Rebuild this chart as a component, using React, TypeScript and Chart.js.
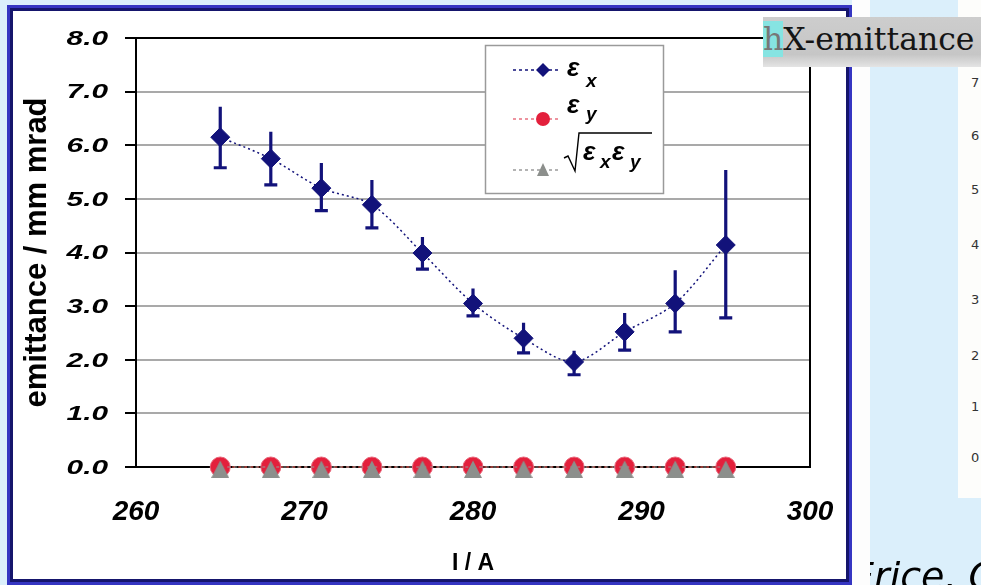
import { useEffect, useRef } from "react";
import { Chart, registerables } from "chart.js";

Chart.register(...registerables);

// Solenoid current scan: horizontal emittance with error bars, vertical and geometric emittance
const currents = [265, 268, 271, 274, 277, 280, 283, 286, 289, 292, 295];
const emitX = [6.15, 5.75, 5.2, 4.89, 3.99, 3.05, 2.4, 1.96, 2.52, 3.05, 4.14];
const emitXHigh = [6.72, 6.25, 5.67, 5.35, 4.29, 3.33, 2.69, 2.17, 2.87, 3.67, 5.54];
const emitXLow = [5.58, 5.26, 4.78, 4.46, 3.69, 2.82, 2.13, 1.72, 2.18, 2.52, 2.78];
const emitY = [0, 0, 0, 0, 0, 0, 0, 0, 0, 0, 0];
const emitGeo = [0, 0, 0, 0, 0, 0, 0, 0, 0, 0, 0];

const yTickValues = [0, 1, 2, 3, 4, 5, 6, 7, 8];
const yTickLabels = ["0.0", "1.0", "2.0", "3.0", "4.0", "5.0", "6.0", "7.0", "8.0"];
const sideTickLabels = ["7", "6", "5", "4", "3", "2", "1", "0"];
const sideTickTops = [83, 136, 190, 245, 300, 356, 407, 458];

const NAVY = "#12127a";
const RED = "#e3203c";
const GREY = "#8c8f8c";
const FONT = '"Liberation Sans", Arial, sans-serif';

function makeTriangle(w: number, h: number, color: string) {
  const c = document.createElement("canvas");
  c.width = w;
  c.height = h;
  const g = c.getContext("2d")!;
  g.fillStyle = color;
  g.beginPath();
  g.moveTo(w / 2, h * 0.2);
  g.lineTo(w, h);
  g.lineTo(0, h);
  g.closePath();
  g.fill();
  return c;
}

const decorPlugin = {
  id: "decor",
  beforeDatasetsDraw(chart: any) {
    const { ctx, chartArea, scales } = chart;
    const xs = scales.x;
    const ys = scales.y;
    ctx.save();
    // plot frame: right edge
    ctx.strokeStyle = "#000";
    ctx.lineWidth = 2;
    ctx.beginPath();
    ctx.moveTo(chartArea.right, chartArea.top);
    ctx.lineTo(chartArea.right, chartArea.bottom);
    ctx.stroke();
    // error bars for the horizontal emittance
    ctx.strokeStyle = NAVY;
    ctx.lineWidth = 3.2;
    currents.forEach((c, i) => {
      const x = xs.getPixelForValue(c);
      const yHi = ys.getPixelForValue(emitXHigh[i]);
      const yLo = ys.getPixelForValue(emitXLow[i]);
      ctx.beginPath();
      ctx.moveTo(x, yHi);
      ctx.lineTo(x, yLo);
      ctx.moveTo(x - 6.5, yLo);
      ctx.lineTo(x + 6.5, yLo);
      ctx.stroke();
    });
    ctx.restore();
  },
  afterDraw(chart: any) {
    const { ctx, scales } = chart;
    const ys = scales.y;
    ctx.save();
    // y tick labels, wide bold italic
    ctx.fillStyle = "#000";
    ctx.font = `italic bold 21px ${FONT}`;
    ctx.textAlign = "right";
    ctx.textBaseline = "middle";
    yTickValues.forEach((v, i) => {
      ctx.save();
      ctx.translate(108, ys.getPixelForValue(v) + 1);
      ctx.scale(1.42, 1);
      ctx.fillText(yTickLabels[i], 0, 0);
      ctx.restore();
    });

    // legend
    const bx = 485.5, by = 45.5, bw = 178, bh = 148;
    ctx.fillStyle = "#fff";
    ctx.fillRect(bx, by, bw, bh);
    ctx.strokeStyle = "#9a9a9a";
    ctx.lineWidth = 1.5;
    ctx.strokeRect(bx, by, bw, bh);

    const mx = 543;
    const rows = [70, 119, 170];
    const colors = [NAVY, "#e87080", "#9a9a9a"];
    rows.forEach((ry, i) => {
      ctx.save();
      ctx.strokeStyle = colors[i];
      ctx.lineWidth = 1.5;
      ctx.setLineDash([3, 3]);
      ctx.beginPath();
      ctx.moveTo(513, ry);
      ctx.lineTo(561, ry);
      ctx.stroke();
      ctx.restore();
    });
    // diamond
    ctx.fillStyle = NAVY;
    ctx.beginPath();
    ctx.moveTo(mx - 7, 70);
    ctx.lineTo(mx, 63);
    ctx.lineTo(mx + 7, 70);
    ctx.lineTo(mx, 77);
    ctx.closePath();
    ctx.fill();
    // circle
    ctx.fillStyle = RED;
    ctx.beginPath();
    ctx.arc(mx, 119, 7, 0, Math.PI * 2);
    ctx.fill();
    // triangle
    ctx.fillStyle = GREY;
    ctx.beginPath();
    ctx.moveTo(mx, 163);
    ctx.lineTo(mx + 6, 176);
    ctx.lineTo(mx - 6, 176);
    ctx.closePath();
    ctx.fill();

    ctx.fillStyle = "#000";
    ctx.textAlign = "left";
    ctx.textBaseline = "alphabetic";
    const big = `italic bold 26px ${FONT}`;
    const sub = `italic bold 19px ${FONT}`;
    ctx.font = big;
    ctx.fillText("ε", 567, 76);
    ctx.font = sub;
    ctx.fillText("x", 586, 87);
    ctx.font = big;
    ctx.fillText("ε", 567, 113);
    ctx.font = sub;
    ctx.fillText("y", 586, 120);

    // square root of the product
    ctx.strokeStyle = "#000";
    ctx.lineWidth = 1.4;
    ctx.beginPath();
    ctx.moveTo(564, 158);
    ctx.lineTo(568, 156);
    ctx.lineTo(575, 171);
    ctx.lineTo(579, 133);
    ctx.lineTo(652, 133);
    ctx.stroke();
    ctx.font = big;
    ctx.fillText("ε", 583, 160);
    ctx.font = sub;
    ctx.fillText("x", 600, 168);
    ctx.font = big;
    ctx.fillText("ε", 612, 160);
    ctx.font = sub;
    ctx.fillText("y", 630, 168);
    ctx.restore();
  },
};

export default function App() {
  const canvasRef = useRef<HTMLCanvasElement | null>(null);

  useEffect(() => {
    const canvas = canvasRef.current;
    if (!canvas) return;
    const tri = makeTriangle(18, 22, GREY);
    const chart = new Chart(canvas, {
      type: "line",
      data: {
        datasets: [
          {
            label: "εx",
            data: currents.map((c, i) => ({ x: c, y: emitX[i] })),
            borderColor: NAVY,
            backgroundColor: NAVY,
            borderWidth: 1.5,
            borderDash: [2, 3],
            tension: 0.3,
            pointStyle: "rectRot",
            pointRadius: 9.5,
            pointBorderWidth: 1,
            pointBorderColor: NAVY,
            pointBackgroundColor: NAVY,
            clip: false,
            order: 0,
          },
          {
            label: "εy",
            data: currents.map((c, i) => ({ x: c, y: emitY[i] })),
            borderColor: "#c8504a",
            backgroundColor: RED,
            borderWidth: 1.5,
            borderDash: [3, 3],
            pointStyle: "circle",
            pointRadius: 10,
            pointBorderWidth: 1,
            pointBorderColor: "#e8667a",
            pointBackgroundColor: RED,
            clip: false,
            order: 2,
          },
          {
            label: "sqrt(εx εy)",
            data: currents.map((c, i) => ({ x: c, y: emitGeo[i] })),
            borderColor: "#9a9a9a",
            backgroundColor: GREY,
            borderWidth: 1,
            borderDash: [3, 4],
            pointStyle: tri,
            pointRadius: 10,
            clip: false,
            order: 1,
          },
        ] as any,
      },
      options: {
        animation: false,
        responsive: false,
        events: [],
        layout: { padding: { top: 38, right: 171, left: 0, bottom: 0 } },
        plugins: { legend: { display: false }, tooltip: { enabled: false } },
        scales: {
          x: {
            type: "linear",
            min: 260,
            max: 300,
            ticks: {
              stepSize: 10,
              color: "#000",
              padding: 28,
              font: { family: FONT, size: 28, weight: "bold", style: "italic" },
            },
            grid: { display: false, drawTicks: false },
            border: { color: "#000", width: 2 },
            title: {
              display: true,
              text: "I / A",
              color: "#000",
              font: { family: FONT, size: 23, weight: "bold" },
              padding: { top: 0, bottom: 8 },
            },
            afterFit: (s: any) => {
              s.height = 118;
            },
          },
          y: {
            type: "linear",
            min: 0,
            max: 8,
            ticks: {
              stepSize: 1,
              color: "rgba(0,0,0,0)",
              font: { family: FONT, size: 21, weight: "bold", style: "italic" },
            },
            grid: {
              color: (c: any) => (c.tick && c.tick.value === 8 ? "#000" : "#a9a9a9"),
              lineWidth: 2,
              tickLength: 11,
              tickColor: "#000",
            },
            border: { color: "#000", width: 2 },
            title: {
              display: true,
              text: "emittance / mm mrad",
              color: "#000",
              font: { family: FONT, size: 31, weight: "bold" },
              padding: { top: 19, bottom: 0 },
            },
            afterFit: (s: any) => {
              s.width = 136;
            },
          },
        },
      } as any,
      plugins: [decorPlugin],
    });
    return () => chart.destroy();
  }, []);

  return (
    <div
      style={{
        position: "fixed",
        left: 0,
        top: 0,
        width: 981,
        height: 585,
        overflow: "hidden",
        background: "#dbeffb",
      }}
    >
      <div style={{ position: "absolute", left: 852, top: 0, width: 18, height: 585, background: "#fdfdfd" }} />
      <div style={{ position: "absolute", left: 958, top: 0, width: 23, height: 498, background: "#fdfdfb" }}>
        {sideTickLabels.map((t, i) => (
          <span
            key={t}
            style={{
              position: "absolute",
              left: 13,
              top: sideTickTops[i] - 8,
              font: '13px "DejaVu Sans", sans-serif',
              lineHeight: "16px",
              color: "#333",
            }}
          >
            {t}
          </span>
        ))}
      </div>
      <div
        style={{
          position: "absolute",
          left: 7,
          top: 5,
          width: 845,
          height: 580,
          boxSizing: "border-box",
          border: "3px solid #3535c2",
          boxShadow: "inset 0 0 0 3px #15156c",
          background: "#fff",
        }}
      />
      <canvas ref={canvasRef} width={981} height={585} style={{ position: "absolute", left: 0, top: 0 }} />
      <div
        style={{
          position: "absolute",
          left: 763,
          top: 17,
          width: 218,
          height: 50,
          background: "linear-gradient(#cdcdcd, #c6c6c6 75%, #e4e4e4)",
          boxSizing: "border-box",
          paddingTop: 7,
          whiteSpace: "nowrap",
          font: '31.5px "DejaVu Serif", serif',
          lineHeight: "30px",
          color: "#151515",
        }}
      >
        <span style={{ background: "#86e4e2", color: "#777" }}>h</span>X-emittance
      </div>
      <div style={{ position: "absolute", left: 870, top: 540, width: 111, height: 45, overflow: "hidden" }}>
        <span
          style={{
            position: "absolute",
            left: -20,
            top: 17,
            whiteSpace: "nowrap",
            font: 'italic 38px "DejaVu Sans", sans-serif',
            lineHeight: "38px",
            color: "#000",
          }}
        >
          Erice, CERN
        </span>
      </div>
    </div>
  );
}
